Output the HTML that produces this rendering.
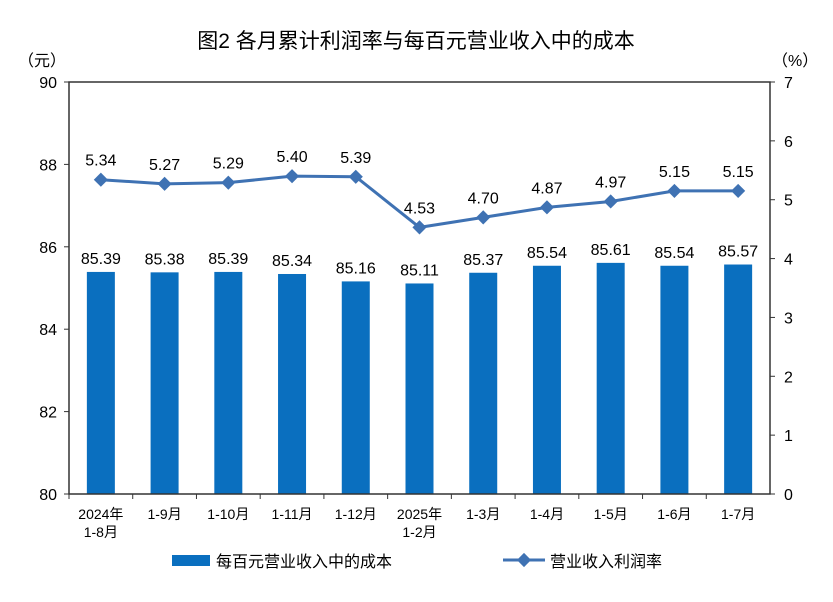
<!DOCTYPE html>
<html><head><meta charset="utf-8"><style>
body{margin:0;background:#fff;}
svg text{font-family:"Liberation Sans","Noto Sans CJK SC",sans-serif;}
</style></head><body>
<svg width="833" height="597" xmlns="http://www.w3.org/2000/svg" id="chart">
<text x="416" y="48" text-anchor="middle" font-size="21" fill="#000">图2  各月累计利润率与每百元营业收入中的成本</text>
<text x="18" y="66" font-size="16" fill="#000">（元）</text>
<text x="772" y="66" font-size="16" fill="#000">（%）</text>
<g id="plot"></g>
<g>
<rect x="172" y="555" width="38" height="11" fill="#0a6fbf"/>
<text x="216" y="567" font-size="16">每百元营业收入中的成本</text>
<line x1="503" y1="560" x2="545" y2="560" stroke="#3f72b3" stroke-width="3"/>
<rect x="519" y="555" width="10" height="10" transform="rotate(45 524 560)" fill="#3f72b3"/>
<text x="550" y="567" font-size="16">营业收入利润率</text>
</g>
</svg>
<script>
const categories=["2024年|1-8月","1-9月","1-10月","1-11月","1-12月","2025年|1-2月","1-3月","1-4月","1-5月","1-6月","1-7月"];
const costValues=[85.39,85.38,85.39,85.34,85.16,85.11,85.37,85.54,85.61,85.54,85.57];
const profitRate=[5.34,5.27,5.29,5.40,5.39,4.53,4.70,4.87,4.97,5.15,5.15];
const leftTicks=[80,82,84,86,88,90];
const rightTicks=[0,1,2,3,4,5,6,7];
const L=69,R=770,T=82,B=494;
const NS="http://www.w3.org/2000/svg";
const g=document.getElementById('plot');
const yL=v=>B-(v-80)/10*(B-T);
const yR=v=>B-v/7*(B-T);
const step=(R-L)/categories.length;
const xC=i=>L+step*(i+0.5);
function mk(t,a,txt){const e=document.createElementNS(NS,t);for(const k in a)e.setAttribute(k,a[k]);if(txt!==undefined)e.textContent=txt;g.appendChild(e);return e;}
// bars
costValues.forEach((v,i)=>{
 const b=mk('rect',{x:xC(i)-14,y:yL(v),width:28,height:B-yL(v),fill:'#0a6fbf'});
 
 
 const t=mk('text',{x:xC(i),y:yL(v)-8,'text-anchor':'middle','font-size':16,fill:'#000'},v.toFixed(2));
 
 
});
// axes frame
const fr=mk('path',{d:`M${L},${T}H${R}V${B}H${L}Z`,fill:'none',stroke:'#333','stroke-width':1.5});


leftTicks.forEach(v=>{
 mk('line',{x1:L-5,x2:L,y1:yL(v),y2:yL(v),stroke:'#333'});
 const t=mk('text',{x:L-12,y:yL(v)+6,'text-anchor':'end','font-size':16},v);
 
 
});
rightTicks.forEach(v=>{
 mk('line',{x1:R,x2:R+5,y1:yR(v),y2:yR(v),stroke:'#333'});
 const t=mk('text',{x:R+14,y:yR(v)+6,'font-size':16},v);
 
 
});
categories.forEach((c,i)=>{
 mk('line',{x1:L+step*i,x2:L+step*i,y1:B,y2:B+5,stroke:'#333'});
 const p=c.split('|');
 p.forEach((s,j)=>{
  const t=mk('text',{x:xC(i),y:B+25+j*18,'text-anchor':'middle','font-size':14},s);
  
  
 });
});
// line
const ln=mk('polyline',{points:profitRate.map((v,i)=>xC(i)+','+yR(v)).join(' '),fill:'none',stroke:'#3f72b3','stroke-width':3});


profitRate.forEach((v,i)=>{
 const m=mk('rect',{x:xC(i)-5,y:yR(v)-5,width:10,height:10,fill:'#3f72b3',transform:`rotate(45 ${xC(i)} ${yR(v)})`});
 
 
 const t=mk('text',{x:xC(i),y:yR(v)-14,'text-anchor':'middle','font-size':16},v.toFixed(2));
 
 
});
</script>
</body></html>
